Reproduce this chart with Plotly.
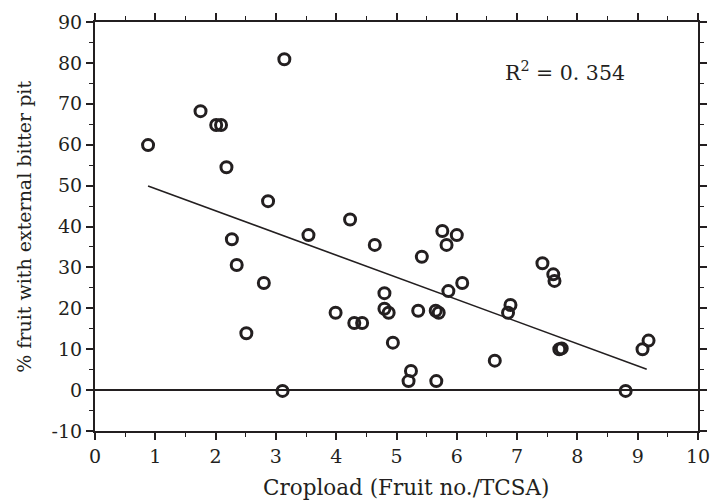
import plotly.graph_objects as go

# Data
cropload = [0.88, 1.75, 2.01, 2.09, 2.18, 2.27, 2.35, 2.51, 2.80, 2.87, 3.11, 3.14,
            3.54, 3.99, 4.23, 4.30, 4.43, 4.64, 4.80, 4.80, 4.87, 4.94, 5.20, 5.24,
            5.36, 5.42, 5.65, 5.66, 5.70, 5.76, 5.83, 5.86, 6.00, 6.09, 6.63, 6.85,
            6.89, 7.42, 7.60, 7.62, 7.70, 7.74, 8.80, 9.08, 9.18]
bitter_pit = [59.9, 68.2, 64.8, 64.8, 54.5, 36.9, 30.6, 13.9, 26.2, 46.2, -0.2, 80.9,
              37.9, 18.9, 41.7, 16.4, 16.4, 35.5, 23.7, 19.9, 18.9, 11.6, 2.2, 4.7,
              19.4, 32.6, 19.4, 2.2, 18.9, 38.9, 35.5, 24.2, 37.9, 26.2, 7.2, 18.9,
              20.8, 31.0, 28.3, 26.7, 10.0, 10.2, -0.2, 10.0, 12.1]
fit_x = [0.88, 9.15]
fit_y = [49.9, 5.1]
x_ticks = list(range(0, 11))
y_ticks = list(range(-10, 91, 10))
y_ticklabels = [str(v) for v in y_ticks]   # plain hyphen for "-10"

FONT = "DejaVu Serif"
INK = "#231f20"

fig = go.Figure()
fig.add_trace(go.Scatter(x=fit_x, y=fit_y, mode="lines",
                         line=dict(color=INK, width=1.6), showlegend=False))
fig.add_trace(go.Scatter(x=cropload, y=bitter_pit, mode="markers",
                         marker=dict(symbol="circle-open", size=11, color=INK,
                                     line=dict(width=3, color=INK)),
                         showlegend=False))

axis_common = dict(
    showline=True, linecolor=INK, linewidth=2, mirror="allticks",
    ticks="outside", ticklen=7, tickwidth=1.5, tickcolor=INK,
    showgrid=False, automargin=False,
    tickfont=dict(family=FONT, size=19, color=INK),
)

fig.update_xaxes(range=[0, 10], tickvals=x_ticks,
                 minor=dict(dtick=0.5, ticks="outside", ticklen=4, tickwidth=1.2, tickcolor=INK),
                 zeroline=False, **axis_common)
fig.update_yaxes(range=[-10, 90], tickvals=y_ticks, ticktext=y_ticklabels,
                 minor=dict(dtick=5, ticks="outside", ticklen=4, tickwidth=1.2, tickcolor=INK),
                 zeroline=True, zerolinecolor=INK, zerolinewidth=1.6,
                 **axis_common)

fig.add_annotation(xref="paper", yref="paper", x=0.516, y=-0.139,
                   text="Cropload (Fruit no./TCSA)", showarrow=False,
                   font=dict(family=FONT, size=21.5, color=INK), xanchor="center", yanchor="middle")
fig.add_annotation(xref="paper", yref="paper", x=-0.119, y=0.5, textangle=-90,
                   text="% fruit with external bitter pit", showarrow=False,
                   font=dict(family=FONT, size=19, color=INK), xanchor="center", yanchor="middle")
fig.add_annotation(xref="paper", yref="paper", x=0.779, y=0.88,
                   text="R<sup>2</sup> = 0. 354", showarrow=False,
                   font=dict(family=FONT, size=20.5, color=INK), xanchor="center", yanchor="middle")

fig.update_layout(width=712, height=502,
                  margin=dict(l=95, r=14, t=22, b=71),
                  plot_bgcolor="white", paper_bgcolor="white")

fig.write_html("out.html", config={"displayModeBar": False},
               post_script="document.body.style.margin='0';")
